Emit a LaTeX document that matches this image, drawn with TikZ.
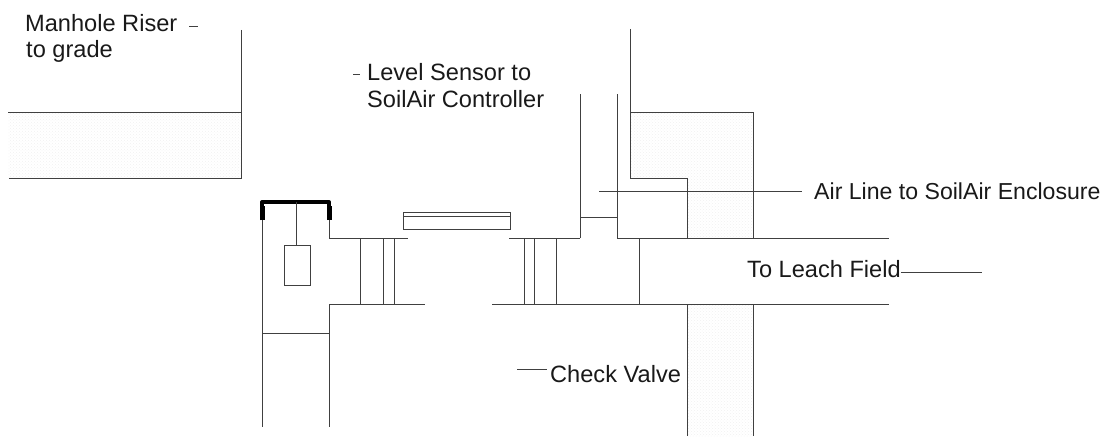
\documentclass[tikz,border=0pt]{standalone}
\usepackage{fontspec}
\setmainfont{Liberation Sans}
\usetikzlibrary{patterns, positioning}

\tikzset{
	wall/.style={black!75, line width=0.8pt},
	stipple/.style={pattern=crosshatch dots, pattern color=black!6},
	lbl/.style={anchor=base west, inner sep=0pt, font=\fontsize{23.6}{27}\selectfont, text=black!90}
}

\begin{document}
\begin{tikzpicture}[x=1pt, y=-1pt]
\useasboundingbox (0, 0) rectangle (1115, 436);

\coordinate (capL) at (262, 220);
\coordinate (capR) at (329, 220);
\coordinate (pipeTL) at (329, 238);
\coordinate (pipeBL) at (329, 304);
\coordinate (ventL) at (580, 238);
\coordinate (ventR) at (617, 238);
\coordinate (ductC) at (687, 178);
\coordinate (boxR) at (753, 112);
\coordinate (pipeTR) at (889, 238);
\coordinate (pipeBR) at (889, 304);

% stippled ground
\fill[stipple] (8, 112) rectangle (241, 178);
\fill[stipple] (630, 112) -- (boxR) -- (753, 238) -- (687, 238) -- (ductC) -- (630, 178) -- cycle;
\fill[stipple] (687, 304) rectangle (753, 436);

% riser
\draw[wall] (241, 30) -- (241, 178) -- (9, 178);
\draw[wall] (8, 112) -- (241, 112);

% tank
\draw[wall] (capL) -- (262, 427);
\draw[wall] (capR) -- (pipeTL) -- (408, 238);
\draw[wall] (pipeBL) -- (329, 427);
\draw[wall] (262, 333) -- (329, 333);
\draw[line width=4pt, line join=round] (capL) -- (262, 202) -- (329, 202) -- (capR);
\draw[line width=5pt] (capL) -- (262, 206);
\draw[line width=5pt] (capR) -- (329, 206);

% float
\draw[wall] (296, 202) -- (296, 245);
\draw[wall] (284, 245) rectangle (310, 285);

% sensor
\draw[wall] (403, 212) rectangle (510, 229);
\draw[wall] (403, 216) -- (510, 216);

% pipe
\draw[wall] (pipeBL) -- (425, 304);
\draw[wall] (492, 304) -- (pipeBR);
\draw[wall] (509, 238) -- (ventL);
\draw[wall] (ventR) -- (pipeTR);
\foreach \x in {360, 383, 394, 524, 534, 556, 639}
	\draw[wall] (\x, 238) -- (\x, 304);

% vent and air duct
\draw[wall] (ventL) -- (580, 94);
\draw[wall] (ventR) -- (617, 94);
\draw[wall] (580, 217) -- (617, 217);
\draw[wall] (630, 29) -- (630, 178) -- (ductC) -- (687, 238);
\draw[wall] (630, 112) -- (boxR) -- (753, 238);
\draw[wall] (687, 304) -- (687, 436);
\draw[wall] (753, 304) -- (753, 436);

% labels
\node[lbl] (riserA) at (25, 32) {Manhole Riser};
\node[lbl] (riserB) at (26, 58) {to grade};
\node[lbl] (sensorA) at (367, 81) {Level Sensor to};
\node[lbl] (sensorB) at (367, 107) {SoilAir Controller};
\node[lbl, font=\fontsize{23.1}{27}\selectfont] (air) at (814, 199) {Air Line to SoilAir Enclosure};
\node[lbl] (leach) at (747, 277) {To Leach Field};
\node[lbl] (valve) at (550, 382) {Check Valve};

% leaders
\draw[wall] (189, 26) -- (198, 26);
\draw[wall] (353, 74) -- (360, 74);
\draw[wall] (599, 191) -- (802, 191);
\draw[wall] (leach.base east |- 0, 272) -- (982, 272);
\draw[wall] (517, 369) -- (547, 369);
\end{tikzpicture}
\end{document}
